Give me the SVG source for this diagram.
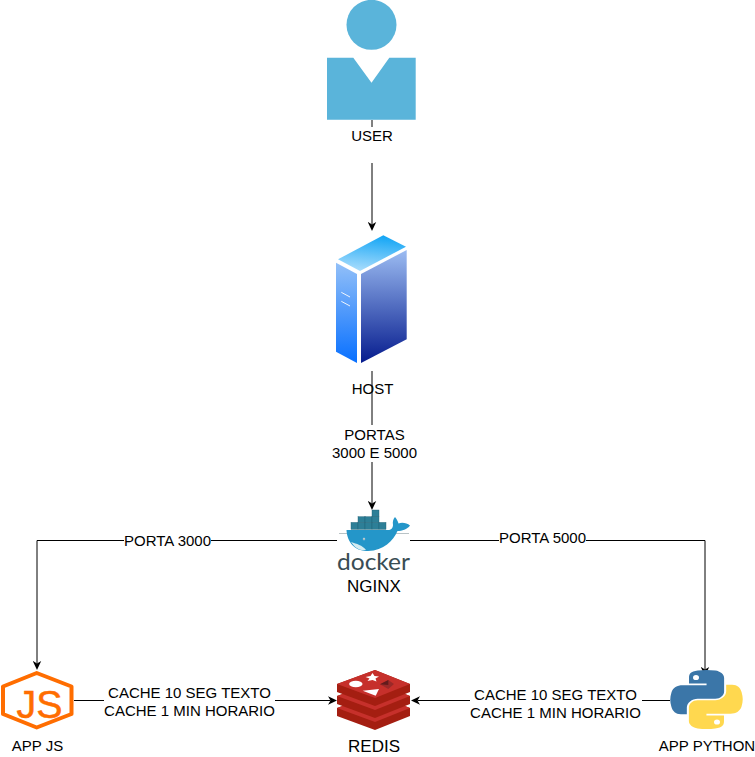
<svg xmlns="http://www.w3.org/2000/svg" width="755" height="757" viewBox="0 0 755 757">
<style>
text{font-family:"Liberation Sans",Arial,sans-serif;font-size:15px;fill:#000;text-anchor:middle}
.big{font-size:17px}
.c{fill:none;stroke:#000;stroke-width:1;marker-end:url(#arrow)}
.bg{fill:#fff}
.box{fill:#2d7f97;stroke:#1d5f74;stroke-width:.4}
</style>
<defs>
<marker id="arrow" markerUnits="userSpaceOnUse" markerWidth="9" markerHeight="9" viewBox="0 0 9 9" refX="2.5" refY="4.5" orient="auto"><path d="M0,0.3L9,4.5L0,8.7L2.5,4.5Z" fill="#000"/></marker>
<linearGradient id="gt" x1="0.6" y1="0" x2="0.4" y2="1"><stop offset="0" stop-color="#12a5f5"/><stop offset="1" stop-color="#a8dcfc"/></linearGradient>
<linearGradient id="gl" x1="0" y1="0" x2="0" y2="1"><stop offset="0" stop-color="#93c0f8"/><stop offset="1" stop-color="#0870ff"/></linearGradient>
<linearGradient id="gr" x1="0" y1="0" x2="0" y2="1"><stop offset="0" stop-color="#9cbcf2"/><stop offset="1" stop-color="#061c8e"/></linearGradient>
<path id="py" d="M54.9,0C50.3,.02 45.9,.41 42.1,1.08C30.8,3.07 28.8,7.25 28.8,14.96V25.14H55.4V28.53H28.8H18.8C11.1,28.53 4.3,33.17 2.2,41.99C-.2,52.1 -.3,58.4 2.2,68.97C4.1,76.8 8.6,82.4 16.3,82.4H25.5V70.2C25.5,61.4 33.1,53.6 42.1,53.6H68.7C76.1,53.6 82,47.5 82,40.1V14.96C82,7.8 75.9,2.4 68.7,1.08C64.1,.32 59.4,-.02 54.9,0Z"/>
</defs>
<g id="connectors">
<path class="c" d="M372,120V224.5"/>
<rect class="bg" x="340" y="127" width="64" height="36"/>
<path class="c" d="M372,371V503.5"/>
<rect class="bg" x="330" y="425" width="90" height="37"/>
<text x="374.5" y="440">PORTAS</text>
<text x="374.5" y="458">3000 E 5000</text>
<path class="c" d="M337,540.5H37V663.5"/>
<rect class="bg" x="124" y="532" width="87" height="18"/>
<text x="167.5" y="546">PORTA 3000</text>
<path class="c" d="M410,540.5H705V669.5"/>
<rect class="bg" x="499" y="530" width="87" height="18"/>
<text x="542.5" y="543">PORTA 5000</text>
<path class="c" d="M74,700.5H330.5"/>
<rect class="bg" x="104" y="684" width="171" height="36"/>
<text x="189.5" y="698">CACHE 10 SEG TEXTO</text>
<text x="189.5" y="716">CACHE 1 MIN HORARIO</text>
<path class="c" d="M670,700.5H417.5"/>
<rect class="bg" x="470" y="686" width="172" height="36"/>
<text x="555.5" y="700">CACHE 10 SEG TEXTO</text>
<text x="555.5" y="718">CACHE 1 MIN HORARIO</text>
</g>
<g id="user">
<circle cx="371.5" cy="24.8" r="25" fill="#5ab4da"/>
<path d="M327,57.7H353.3L371.5,82.7L389.3,57.7H415.7V119.8H327Z" fill="#5ab4da"/>
<text x="372" y="141">USER</text>
</g>
<g id="host">
<path d="M383.3,235.3L406,246.7L360,271L338,259.3Z" fill="url(#gt)"/>
<path d="M336,262.7L357,274V363L336,351.7Z" fill="url(#gl)"/>
<path d="M361,274L406.7,250V339.3L361,363Z" fill="url(#gr)"/>
<path d="M341.3,292.3L350,297M341.3,301.3L350,306" stroke="#fff" stroke-width="1" opacity=".9"/>
<text x="372.5" y="394">HOST</text>
</g>
<g id="nginx">
<path d="M339,533.5H409" stroke="#8a9a9f" stroke-width=".6"/>
<rect class="box" x="372" y="510" width="7" height="6.7"/>
<rect class="box" x="358" y="516.7" width="7" height="5.7"/><rect class="box" x="365" y="516.7" width="7" height="5.7"/><rect class="box" x="372" y="516.7" width="7" height="5.7"/>
<rect class="box" x="351" y="522.4" width="7" height="7"/><rect class="box" x="358" y="522.4" width="7" height="7"/><rect class="box" x="365" y="522.4" width="7" height="7"/><rect class="box" x="372" y="522.4" width="7" height="7"/><rect class="box" x="379" y="522.4" width="7" height="7"/>
<path d="M346.5,530H388C391,530 393,528 393,525C392.5,522 393,519 395,517C397,519.5 398,521.5 398.5,523.5C402,522 407,523 410,525.5C407,529.5 402,531 397.5,531C393,541 384,550.5 368,551C355,551.5 347,542 346.5,530Z" fill="#2496c9"/>
<path d="M351,542C357,544 362,545 366,550C360,551 355,548 351,542Z" fill="#d5ecf1"/>
<circle cx="364" cy="539" r="1.2" fill="#dfeef3"/><circle cx="364" cy="539" r=".6" fill="#17313a"/>
<text x="373.5" y="570" style="font-family:Lato,'Open Sans',sans-serif;font-size:23px;fill:#394d54" textLength="73" lengthAdjust="spacingAndGlyphs">docker</text>
<text class="big" x="374" y="592">NGINX</text>
</g>
<g id="appjs">
<path d="M36.7,673L71.5,686.5V714L36.7,727.5L3,714V686.5Z" fill="none" stroke="#ff6d00" stroke-width="4" stroke-linejoin="round"/>
<text x="39.5" y="718" style="font-size:39px;fill:#ff6d00;stroke:#ff6d00;stroke-width:.5" textLength="46" lengthAdjust="spacingAndGlyphs">JS</text>
<text x="37.5" y="751">APP JS</text>
</g>
<g id="redis">
<path d="M337,708L375,694L410,708V716L375,730L337,716Z" fill="#a41e11"/>
<path d="M337,708L375,694L410,708L375,722Z" fill="#c6302b"/>
<path d="M337,696L375,682L410,696V704L375,718L337,704Z" fill="#a41e11"/>
<path d="M337,696L375,682L410,696L375,710Z" fill="#c6302b"/>
<path d="M337,684L375,670L410,684V692L375,706L337,692Z" fill="#a41e11"/>
<path d="M337,684L375,670L410,684L375,698Z" fill="#c6302b"/>
<path d="M372.5,673L374.5,676L379,676.5L375.5,678.5L376.5,681.5L372.5,680L367.5,681L369.5,678.5L365.5,677L370.5,676Z" fill="#fff"/>
<ellipse cx="355.8" cy="684" rx="6.7" ry="3.2" fill="#fff"/>
<path d="M362.7,690.7L379,689L375.7,695.7Z" fill="#fff"/>
<path d="M380,684.3L388.3,680L394,684L388.3,689Z" fill="#9a2928"/>
<path d="M380,684.3L388.3,680V685Z" fill="#621b1c"/>
<text class="big" x="374" y="752">REDIS</text>
</g>
<g id="apppython">
<use href="#py" transform="translate(670,670) scale(.66,.536)" fill="#3b76a8"/>
<use href="#py" transform="translate(743,729) scale(-.66,-.536)" fill="#ffd84f"/>
<ellipse cx="696" cy="677.5" rx="3" ry="2.6" fill="#fff"/>
<ellipse cx="717" cy="722" rx="3" ry="2.6" fill="#fff"/>
<text x="707" y="751">APP PYTHON</text>
</g>
</svg>
